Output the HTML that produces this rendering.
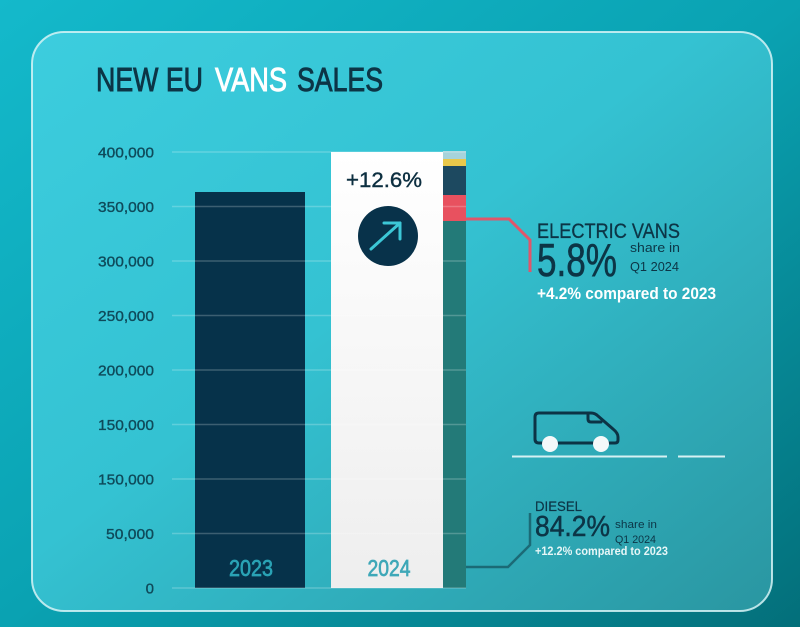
<!DOCTYPE html>
<html><head><meta charset="utf-8"><style>
html,body{margin:0;padding:0;width:800px;height:627px;overflow:hidden;background:#0a9aa8}
svg{display:block}
text{font-family:"Liberation Sans",sans-serif}
</style></head><body>
<svg width="800" height="627" viewBox="0 0 800 627" xmlns="http://www.w3.org/2000/svg">
<defs>
<linearGradient id="bg" x1="0" y1="0" x2="1" y2="1">
<stop offset="0" stop-color="#14b9cb"/><stop offset="0.5" stop-color="#0aa2b2"/><stop offset="1" stop-color="#036f7a"/>
</linearGradient>
<linearGradient id="pn" x1="0" y1="0" x2="1" y2="1">
<stop offset="0" stop-color="#3ccdde"/><stop offset="0.45" stop-color="#34c2d2"/><stop offset="1" stop-color="#2a96a1"/>
</linearGradient>
<linearGradient id="wb" x1="0" y1="0" x2="0" y2="1">
<stop offset="0" stop-color="#ffffff"/><stop offset="1" stop-color="#eeeeee"/>
</linearGradient>
</defs>
<rect x="0" y="0" width="800" height="627" fill="url(#bg)"/>
<rect x="32" y="32" width="740" height="579" rx="32" fill="url(#pn)" stroke="#d6f3f6" stroke-opacity="0.85" stroke-width="2"/>

<!-- title -->
<text x="96" y="91" font-size="33" fill="#0c3546" stroke="#0c3546" stroke-width="0.9" textLength="107" lengthAdjust="spacingAndGlyphs">NEW EU</text>
<text x="215" y="91" font-size="33" fill="#ffffff" stroke="#ffffff" stroke-width="0.9" textLength="72" lengthAdjust="spacingAndGlyphs">VANS</text>
<text x="297" y="91" font-size="33" fill="#0c3546" stroke="#0c3546" stroke-width="0.9" textLength="86" lengthAdjust="spacingAndGlyphs">SALES</text>

<!-- y labels -->
<g font-size="15" fill="#0f4a5a" stroke="#0f4a5a" stroke-width="0.35" text-anchor="end">
<text x="154" y="157.5" textLength="56" lengthAdjust="spacingAndGlyphs">400,000</text>
<text x="154" y="212" textLength="56" lengthAdjust="spacingAndGlyphs">350,000</text>
<text x="154" y="266.5" textLength="56" lengthAdjust="spacingAndGlyphs">300,000</text>
<text x="154" y="321" textLength="56" lengthAdjust="spacingAndGlyphs">250,000</text>
<text x="154" y="375.5" textLength="56" lengthAdjust="spacingAndGlyphs">200,000</text>
<text x="154" y="430" textLength="56" lengthAdjust="spacingAndGlyphs">150,000</text>
<text x="154" y="484.5" textLength="56" lengthAdjust="spacingAndGlyphs">150,000</text>
<text x="154" y="539" textLength="48" lengthAdjust="spacingAndGlyphs">50,000</text>
<text x="154" y="593.5">0</text>
</g>

<!-- bars -->
<rect x="195" y="192" width="110" height="396" fill="#06324a"/>
<rect x="331" y="152" width="112" height="436" fill="url(#wb)"/>
<rect x="443" y="151" width="23" height="8" fill="#a6d3db"/>
<rect x="443" y="159" width="23" height="7" fill="#e9c84b"/>
<rect x="443" y="166" width="23" height="29" fill="#1d4960"/>
<rect x="443" y="195" width="23" height="26" fill="#e8515f"/>
<rect x="443" y="221" width="23" height="367" fill="#237a78"/>

<!-- gridlines -->
<g stroke="#ffffff" stroke-opacity="0.22" stroke-width="1.5">
<line x1="172" y1="152" x2="466" y2="152"/>
<line x1="172" y1="206.5" x2="466" y2="206.5"/>
<line x1="172" y1="261" x2="466" y2="261"/>
<line x1="172" y1="315.5" x2="466" y2="315.5"/>
<line x1="172" y1="370" x2="466" y2="370"/>
<line x1="172" y1="424.5" x2="466" y2="424.5"/>
<line x1="172" y1="479" x2="466" y2="479"/>
<line x1="172" y1="533.5" x2="466" y2="533.5"/>
<line x1="172" y1="588" x2="466" y2="588"/>
</g>

<!-- bar labels -->
<text x="251" y="576" font-size="23" fill="#2aa3b5" stroke="#2aa3b5" stroke-width="0.7" text-anchor="middle" textLength="44" lengthAdjust="spacingAndGlyphs">2023</text>
<text x="389" y="576" font-size="23" fill="#3fa8b8" stroke="#3fa8b8" stroke-width="0.7" text-anchor="middle" textLength="43" lengthAdjust="spacingAndGlyphs">2024</text>

<!-- +12.6% and arrow -->
<text x="384" y="187" font-size="21" fill="#0d2f40" stroke="#0d2f40" stroke-width="0.4" text-anchor="middle" textLength="76" lengthAdjust="spacingAndGlyphs">+12.6%</text>
<circle cx="388" cy="236" r="30" fill="#08324a"/>
<g stroke="#3cc7d6" stroke-width="3" stroke-linecap="round" stroke-linejoin="round" fill="none">
<line x1="371" y1="249" x2="400" y2="223"/>
<polyline points="384,223 400,223 400,239"/>
</g>

<!-- connectors -->
<polyline points="466,219 509,219 530,240 530,272" fill="none" stroke="#e0566a" stroke-width="3"/>
<polyline points="466,567 508,567 530,545 530,513" fill="none" stroke="#1b6a76" stroke-width="2.5"/>

<!-- electric vans -->
<text x="537" y="238" font-size="21" fill="#0c3546" stroke="#0c3546" stroke-width="0.3" textLength="143" lengthAdjust="spacingAndGlyphs">ELECTRIC VANS</text>
<text x="537" y="276" font-size="46" fill="#0c3546" stroke="#0c3546" stroke-width="0.6" textLength="80" lengthAdjust="spacingAndGlyphs">5.8%</text>
<text x="630" y="252" font-size="13" fill="#0c3546" textLength="50" lengthAdjust="spacingAndGlyphs">share in</text>
<text x="630" y="271" font-size="13" fill="#0c3546" textLength="49" lengthAdjust="spacingAndGlyphs">Q1 2024</text>
<text x="537" y="299" font-size="17" font-weight="bold" fill="#ffffff" textLength="179" lengthAdjust="spacingAndGlyphs">+4.2% compared to 2023</text>

<!-- van icon -->
<g fill="none" stroke="#0c3345" stroke-width="3" stroke-linecap="round" stroke-linejoin="round">
<path d="M543 443 L539 443 Q535 443 535 439 L535 417 Q535 413 539 413 L591 413 Q595 413 598 416 L613 429 Q618 433 618 437 L618 440 Q618 443 615 443 L608 443"/>
<line x1="557" y1="443" x2="593" y2="443"/>
<path d="M588 414 L588 419 Q588 422 591 422 L601 422"/>
</g>
<circle cx="550" cy="444" r="8" fill="#f4f9fa"/>
<circle cx="601" cy="444" r="8" fill="#f4f9fa"/>
<line x1="512" y1="456.5" x2="667" y2="456.5" stroke="#d6f1f3" stroke-width="2"/>
<line x1="678" y1="456.5" x2="725" y2="456.5" stroke="#d6f1f3" stroke-width="2"/>

<!-- diesel -->
<text x="535" y="511" font-size="14" fill="#0c3546" stroke="#0c3546" stroke-width="0.2" textLength="47" lengthAdjust="spacingAndGlyphs">DIESEL</text>
<text x="535" y="536" font-size="29" fill="#0c3546" stroke="#0c3546" stroke-width="0.5" textLength="75" lengthAdjust="spacingAndGlyphs">84.2%</text>
<text x="615" y="528" font-size="11" fill="#0c3546" textLength="42" lengthAdjust="spacingAndGlyphs">share in</text>
<text x="615" y="543" font-size="11" fill="#0c3546" textLength="41" lengthAdjust="spacingAndGlyphs">Q1 2024</text>
<text x="535" y="555" font-size="12" font-weight="bold" fill="#e6f6f7" textLength="133" lengthAdjust="spacingAndGlyphs">+12.2% compared to 2023</text>
</svg>
</body></html>
